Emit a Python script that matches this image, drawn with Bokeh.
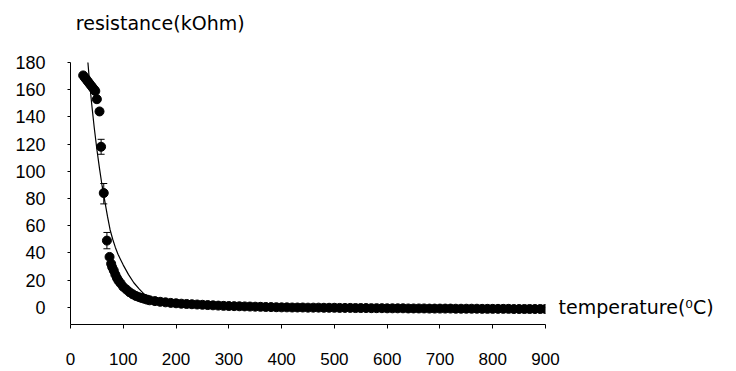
from bokeh.plotting import figure
from bokeh.models import Whisker, TeeHead, ColumnDataSource, FixedTicker, Range1d, LinearAxis
from bokeh.embed import file_html
from bokeh.resources import INLINE

# measured points (temperature in degC, resistance in kOhm)
temperature = [24, 27, 30, 33, 36, 39, 42, 45, 47, 50, 55, 58, 63, 69, 74, 77, 79, 82, 85, 88,
               91, 95, 100, 106, 112, 118, 124, 130, 135, 140, 145,
               150, 160, 170, 180, 190, 200, 210, 220, 230, 240, 250, 260, 270, 280, 290,
               300, 310, 320, 330, 340, 350, 360, 370, 380, 390, 400, 410, 420, 430, 440,
               450, 460, 470, 480, 490, 500, 510, 520, 530, 540, 550, 560, 570, 580, 590,
               600, 610, 620, 630, 640, 650, 660, 670, 680, 690, 700, 710, 720, 730, 740,
               750, 760, 770, 780, 790, 800, 810, 820, 830, 840, 850, 860, 870, 880, 890, 900]
resistance = [170.5, 169, 167.5, 166, 164.5, 163, 161.5, 160, 159, 153, 144, 118, 84, 49, 37, 32, 29.5, 27, 24, 21.5,
              19.5, 17.5, 15, 13, 11, 9.5, 8.3, 7.4, 6.8, 6.2, 5.6,
              5.1, 4.5, 4.0, 3.6, 3.2, 2.9, 2.6, 2.4, 2.2, 2.0, 1.8, 1.6, 1.4, 1.2, 1.0,
              0.9, 0.8, 0.7, 0.6, 0.5, 0.4, 0.3, 0.2, 0.1, 0.0, -0.1, -0.1, -0.2, -0.2, -0.2,
              -0.3, -0.3, -0.3, -0.4, -0.4, -0.4, -0.5, -0.5, -0.5, -0.6, -0.6, -0.6, -0.7, -0.7, -0.7,
              -0.8, -0.8, -0.8, -0.8, -0.9, -0.9, -0.9, -0.9, -1.0, -1.0, -1.0, -1.0, -1.0, -1.1, -1.1,
              -1.1, -1.1, -1.1, -1.2, -1.2, -1.2, -1.2, -1.2, -1.2, -1.3, -1.3, -1.3, -1.3, -1.3, -1.3, -1.3]

# error bars on a few points
err_temperature = [58, 63, 69]
err_upper = [123.5, 91, 55]
err_lower = [112.5, 76, 43]

# fitted curve
fit_temperature = [30, 33, 36, 40, 45, 50, 55, 60, 65, 70, 75, 80, 85, 90, 95, 100, 110, 120, 130, 140,
                   150, 160, 170, 180, 200, 220, 250, 300, 400, 500, 600, 700, 800, 900]
fit_resistance = [193, 180, 166, 150, 132, 116, 102, 89, 78, 67, 57, 50, 44, 39, 35, 31, 24, 18, 13.5, 9.5,
                  7.5, 5.8, 4.6, 3.7, 2.4, 1.6, 0.9, 0.3, 0, 0, 0, 0, 0, 0]

x_ticks = [0, 100, 200, 300, 400, 500, 600, 700, 800, 900]
y_ticks = [0, 20, 40, 60, 80, 100, 120, 140, 160, 180]

y_title = "resistance(kOhm)"
x_title = "temperature(\u2070C)"
y_title_at = 170   # temperature value above which the y title is centred
x_title_at = 0     # resistance value level of the x title

FONT = "Liberation Sans"
TITLE_FONT = "DejaVu Sans"

p = figure(width=736, height=371, output_backend="svg", toolbar_location=None,
           x_range=Range1d(0, 900), y_range=Range1d(-12.7, 180),
           min_border_left=70, min_border_right=191, min_border_top=62, min_border_bottom=47)
p.outline_line_color = None
p.grid.visible = False
p.background_fill_color = "white"
p.border_fill_color = "white"

xa = p.xaxis[0]
ya = p.yaxis[0]
xa.ticker = FixedTicker(ticks=x_ticks)
ya.ticker = FixedTicker(ticks=y_ticks)
for ax in (xa, ya):
    ax.minor_tick_line_color = None
    ax.major_tick_in = 0
    ax.axis_line_color = "black"
    ax.major_tick_line_color = "black"
    ax.major_label_text_font = FONT
    ax.major_label_text_color = "black"
xa.major_label_text_font_size = "17px"
xa.major_tick_out = 4
xa.major_label_standoff = 24
ya.major_label_text_font_size = "18px"
ya.major_tick_out = 3
ya.major_label_standoff = 22

# axis titles placed as single-tick labels of bare axes
top = LinearAxis(ticker=FixedTicker(ticks=[y_title_at]), major_label_overrides={y_title_at: y_title},
                 axis_line_color=None, major_tick_line_color=None, minor_tick_line_color=None,
                 major_tick_out=0, major_tick_in=0, major_label_standoff=29,
                 major_label_text_font=TITLE_FONT, major_label_text_font_size="19px",
                 major_label_text_color="black")
p.add_layout(top, "above")
right = LinearAxis(ticker=FixedTicker(ticks=[x_title_at]), major_label_overrides={x_title_at: x_title},
                   axis_line_color=None, major_tick_line_color=None, minor_tick_line_color=None,
                   major_tick_out=0, major_tick_in=0, major_label_standoff=13,
                   major_label_text_font=TITLE_FONT, major_label_text_font_size="19px",
                   major_label_text_color="black")
p.add_layout(right, "right")

# fitted curve
p.line(fit_temperature, fit_resistance, line_color="black", line_width=1.2)

# error bars
err_src = ColumnDataSource(dict(x=err_temperature, upper=err_upper, lower=err_lower))
p.add_layout(Whisker(base="x", upper="upper", lower="lower", source=err_src, dimension="height",
                     line_color="black", line_width=1,
                     upper_head=TeeHead(size=7, line_color="black"),
                     lower_head=TeeHead(size=7, line_color="black")))

# data points
p.scatter(temperature, resistance, marker="circle", size=9, fill_color="black", line_color="black")

open("out.html", "w").write(file_html(p, INLINE))
